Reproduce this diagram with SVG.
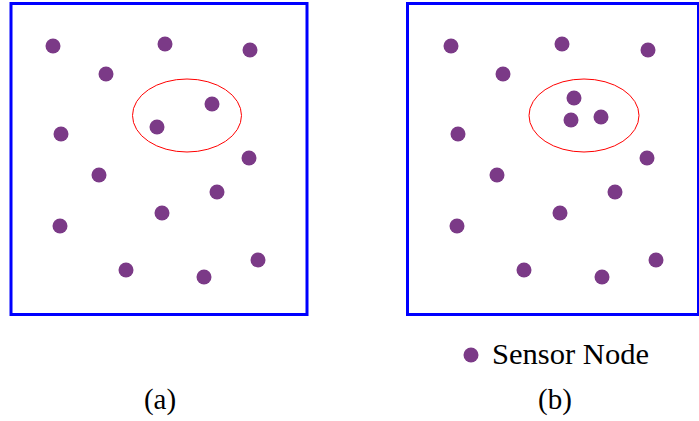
<svg xmlns="http://www.w3.org/2000/svg" width="699" height="421" viewBox="0 0 699 421">
<style>
.frame{fill:none;stroke:#0000ff;stroke-width:3}
.zone{fill:none;stroke:#ff0000;stroke-width:1}
.node{fill:#7b3a87}
.lbl{font-family:"Liberation Serif","DejaVu Serif",serif;font-size:29px;fill:#000}
</style>
<rect width="699" height="421" fill="#fff"/>
<g id="panel-a">
<rect class="frame" x="11" y="3.5" width="296" height="311"/>
<ellipse class="zone" cx="187" cy="115.5" rx="54.5" ry="36.5"/>
<g id="nodes-a">
<circle class="node" cx="53" cy="46" r="7.5"/>
<circle class="node" cx="165" cy="44" r="7.5"/>
<circle class="node" cx="250" cy="50" r="7.5"/>
<circle class="node" cx="106" cy="74" r="7.5"/>
<circle class="node" cx="212" cy="104" r="7.5"/>
<circle class="node" cx="157" cy="127" r="7.5"/>
<circle class="node" cx="61" cy="134" r="7.5"/>
<circle class="node" cx="249" cy="158" r="7.5"/>
<circle class="node" cx="99" cy="175" r="7.5"/>
<circle class="node" cx="217" cy="192" r="7.5"/>
<circle class="node" cx="162" cy="213" r="7.5"/>
<circle class="node" cx="60" cy="226" r="7.5"/>
<circle class="node" cx="258" cy="260" r="7.5"/>
<circle class="node" cx="126" cy="270" r="7.5"/>
<circle class="node" cx="204" cy="277" r="7.5"/>
</g>
<text class="lbl" x="160" y="409" text-anchor="middle">(a)</text>
</g>
<g id="panel-b">
<rect class="frame" x="407.5" y="3.5" width="291" height="311"/>
<ellipse class="zone" cx="584" cy="115.5" rx="55" ry="36.5"/>
<g id="nodes-b">
<circle class="node" cx="451" cy="46" r="7.5"/>
<circle class="node" cx="562" cy="44" r="7.5"/>
<circle class="node" cx="648" cy="50" r="7.5"/>
<circle class="node" cx="503" cy="74" r="7.5"/>
<circle class="node" cx="574" cy="98" r="7.5"/>
<circle class="node" cx="571" cy="120" r="7.5"/>
<circle class="node" cx="601" cy="117" r="7.5"/>
<circle class="node" cx="458" cy="134" r="7.5"/>
<circle class="node" cx="647" cy="158" r="7.5"/>
<circle class="node" cx="497" cy="175" r="7.5"/>
<circle class="node" cx="615" cy="192" r="7.5"/>
<circle class="node" cx="560" cy="213" r="7.5"/>
<circle class="node" cx="457" cy="226" r="7.5"/>
<circle class="node" cx="656" cy="260" r="7.5"/>
<circle class="node" cx="524" cy="270" r="7.5"/>
<circle class="node" cx="602" cy="277" r="7.5"/>
</g>
<text class="lbl" x="555" y="409" text-anchor="middle">(b)</text>
</g>
<g id="legend">
<circle class="node" cx="471" cy="355" r="7.5"/>
<text class="lbl" x="492" y="364" textLength="157" lengthAdjust="spacingAndGlyphs">Sensor Node</text>
</g>
<g id="connectors"/>
</svg>
